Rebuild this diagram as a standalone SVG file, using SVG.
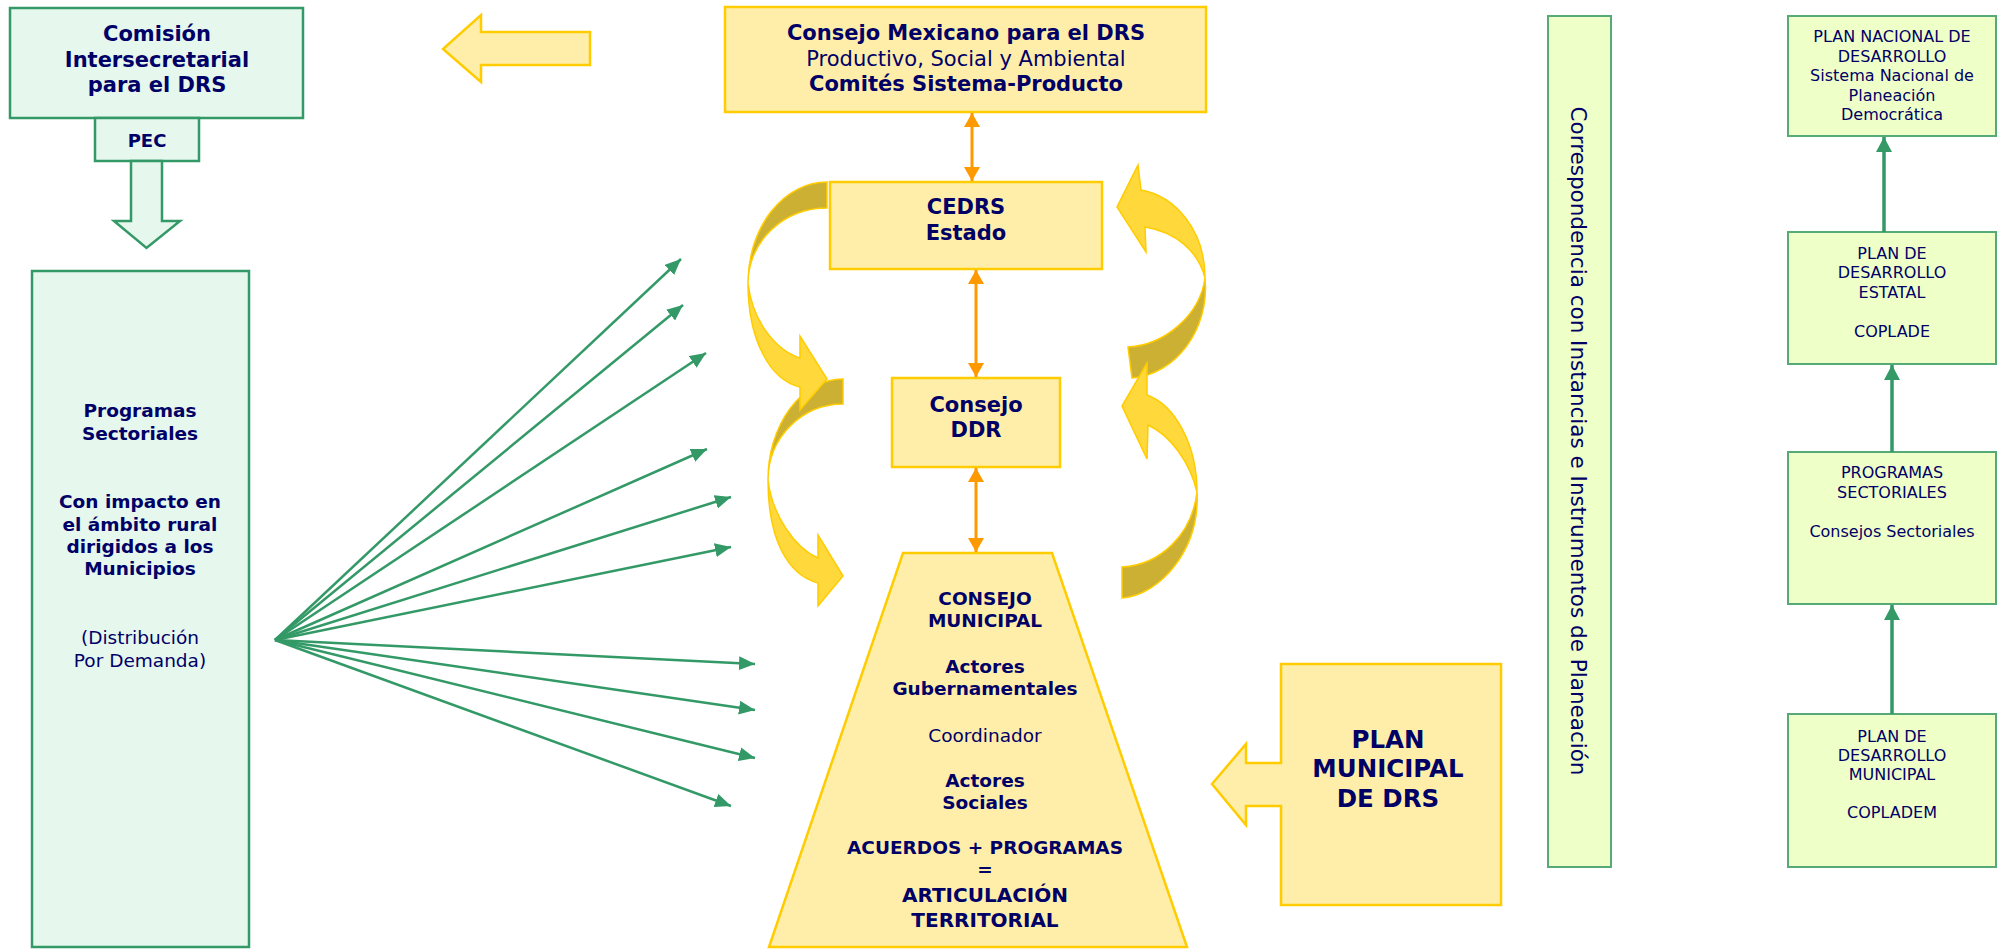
<svg xmlns="http://www.w3.org/2000/svg" width="2004" height="949" viewBox="0 0 2004 949">
<defs>
<style>
text{font-family:"DejaVu Sans","Verdana",sans-serif;fill:#000066;text-anchor:middle}
.b{font-weight:bold}
.mint{fill:#E6F7EE;stroke:#339966;stroke-width:2.5}
.lime{fill:#EFFFC8;stroke:#55AA77;stroke-width:2}
.yel{fill:#FFEEAA;stroke:#FFCC00;stroke-width:2.5}
.bright{fill:#FFD93B;stroke:#FFCC00;stroke-width:1.5}
.dark{fill:#CCB033;stroke:#FFCC00;stroke-width:1.5}
.gfan{stroke:#339966;stroke-width:2.5;fill:none;marker-end:url(#gh)}
.gcol{stroke:#339966;stroke-width:3.5;fill:none;marker-end:url(#gh2)}
.or{stroke:#FF9900;stroke-width:3;fill:none;marker-start:url(#oh);marker-end:url(#oh)}
</style>
<marker id="gh" markerUnits="userSpaceOnUse" markerWidth="18" markerHeight="14" refX="16" refY="7" orient="auto"><path d="M0,0 L16,7 L0,14 Z" fill="#339966"/></marker>
<marker id="gh2" markerUnits="userSpaceOnUse" markerWidth="16" markerHeight="16" refX="15" refY="8" orient="auto"><path d="M0,0 L15,8 L0,16 Z" fill="#339966"/></marker>
<marker id="oh" markerUnits="userSpaceOnUse" markerWidth="15" markerHeight="16" refX="14" refY="8" orient="auto-start-reverse"><path d="M0,0 L14,8 L0,16 Z" fill="#FF9900"/></marker>
</defs>
<rect width="2004" height="949" fill="#FFFFFF"/>

<g id="comision">
<rect class="mint" x="10" y="8" width="293" height="110"/>
<text class="b" font-size="21" x="157" y="41">Comisión</text>
<text class="b" font-size="21" x="157" y="67">Intersecretarial</text>
<text class="b" font-size="21" x="157" y="92">para el DRS</text>
</g>
<g id="pec">
<rect class="mint" x="95" y="118" width="104" height="43"/>
<text class="b" font-size="18" x="147" y="147">PEC</text>
</g>
<g id="pec-arrow">
<path class="mint" d="M131,161 L162,161 L162,221 L180,221 L146.5,248 L114,221 L131,221 Z"/>
</g>
<g id="programas">
<rect class="mint" x="32" y="271" width="217" height="676"/>
<text class="b" font-size="18.5" x="140" y="417">Programas</text>
<text class="b" font-size="18.5" x="140" y="440">Sectoriales</text>
<text class="b" font-size="18.5" x="140" y="508">Con impacto en</text>
<text class="b" font-size="18.5" x="140" y="531">el ámbito rural</text>
<text class="b" font-size="18.5" x="140" y="553">dirigidos a los</text>
<text class="b" font-size="18.5" x="140" y="575">Municipios</text>
<text font-size="18.5" x="140" y="644">(Distribución</text>
<text font-size="18.5" x="140" y="667">Por Demanda)</text>
</g>

<g id="top-arrow">
<path class="yel" d="M590,32 L481,32 L481,15 L443,49 L481,82 L481,65 L590,65 Z" stroke-width="2"/>
</g>

<g id="consejo-mexicano">
<rect class="yel" x="725" y="7" width="481" height="105"/>
<text class="b" font-size="21" x="966" y="40">Consejo Mexicano para el DRS</text>
<text font-size="21" x="966" y="66">Productivo, Social y Ambiental</text>
<text class="b" font-size="21" x="966" y="91">Comités Sistema-Producto</text>
</g>

<g id="curved-arrows">
<path class="dark" d="M843,379 A75,101 0 0 0 768,480 A75,76 0 0 1 843,404 Z"/>
<path class="bright" d="M768,480 C772,515 795,548 818,558 L818,535 L843,576 L818,606 L818,583 C788,575 768,540 768,480 Z"/>
<path class="dark" d="M827,182 A79,101 0 0 0 748,283 A79,75 0 0 1 827,208 Z"/>
<path class="bright" d="M748,283 C752,320 775,350 800,358 L800,336 L827,379 L800,410 L800,387 C770,380 748,340 748,283 Z"/>
<path class="dark" d="M1205,278 C1210,330 1175,375 1132,378 L1128,347 C1165,345 1200,315 1205,278 Z"/>
<path class="bright" d="M1138,165 L1141,190 C1175,196 1205,230 1205,278 C1198,250 1175,232 1145,227 L1146,252 L1117,207 Z"/>
<path class="dark" d="M1197,492 C1200,550 1160,595 1122,598 L1122,567 C1160,565 1192,535 1197,492 Z"/>
<path class="bright" d="M1147,363 L1147,395 C1175,405 1197,445 1197,492 C1190,462 1170,435 1148,425 L1147,459 L1122,406 Z"/>
</g>

<g id="cedrs">
<rect class="yel" x="830" y="182" width="272" height="87"/>
<text class="b" font-size="21" x="966" y="214">CEDRS</text>
<text class="b" font-size="21" x="966" y="240">Estado</text>
</g>
<g id="consejo-ddr">
<rect class="yel" x="892" y="378" width="168" height="89"/>
<text class="b" font-size="21" x="976" y="412">Consejo</text>
<text class="b" font-size="21" x="976" y="437">DDR</text>
</g>
<g id="consejo-municipal">
<path class="yel" d="M903,553 L1052,553 L1187,947 L769,947 Z"/>
<text class="b" font-size="18.5" x="985" y="605">CONSEJO</text>
<text class="b" font-size="18.5" x="985" y="627">MUNICIPAL</text>
<text class="b" font-size="18.5" x="985" y="673">Actores</text>
<text class="b" font-size="18.5" x="985" y="695">Gubernamentales</text>
<text font-size="18.5" x="985" y="742">Coordinador</text>
<text class="b" font-size="18.5" x="985" y="787">Actores</text>
<text class="b" font-size="18.5" x="985" y="809">Sociales</text>
<text class="b" font-size="18.5" x="985" y="854">ACUERDOS + PROGRAMAS</text>
<text class="b" font-size="18.5" x="985" y="876">=</text>
<text class="b" font-size="20" x="985" y="902">ARTICULACIÓN</text>
<text class="b" font-size="20" x="985" y="927">TERRITORIAL</text>
</g>
<g id="plan-municipal">
<path class="yel" d="M1281,664 L1501,664 L1501,905 L1281,905 L1281,806 L1246,806 L1246,825 L1212,784 L1246,744 L1246,763 L1281,763 Z"/>
<text class="b" font-size="24.5" x="1388" y="748">PLAN</text>
<text class="b" font-size="24.5" x="1388" y="777">MUNICIPAL</text>
<text class="b" font-size="24.5" x="1388" y="807">DE DRS</text>
</g>

<g id="correspondencia">
<rect class="lime" x="1548" y="16" width="63" height="851"/>
<text font-size="21.5" transform="translate(1571,441) rotate(90)">Correspondencia con Instancias e Instrumentos de Planeación</text>
</g>
<g id="plan-nacional">
<rect class="lime" x="1788" y="16" width="208" height="120"/>
<text font-size="16" x="1892" y="42">PLAN NACIONAL DE</text>
<text font-size="16" x="1892" y="62">DESARROLLO</text>
<text font-size="16" x="1892" y="81">Sistema Nacional de</text>
<text font-size="16" x="1892" y="101">Planeación</text>
<text font-size="16" x="1892" y="120">Democrática</text>
</g>
<g id="plan-estatal">
<rect class="lime" x="1788" y="232" width="208" height="132"/>
<text font-size="16" x="1892" y="259">PLAN DE</text>
<text font-size="16" x="1892" y="278">DESARROLLO</text>
<text font-size="16" x="1892" y="298">ESTATAL</text>
<text font-size="16" x="1892" y="337">COPLADE</text>
</g>
<g id="programas-sectoriales">
<rect class="lime" x="1788" y="452" width="208" height="152"/>
<text font-size="16" x="1892" y="478">PROGRAMAS</text>
<text font-size="16" x="1892" y="498">SECTORIALES</text>
<text font-size="16" x="1892" y="537">Consejos Sectoriales</text>
</g>
<g id="plan-municipal-desarrollo">
<rect class="lime" x="1788" y="714" width="208" height="153"/>
<text font-size="16" x="1892" y="742">PLAN DE</text>
<text font-size="16" x="1892" y="761">DESARROLLO</text>
<text font-size="16" x="1892" y="780">MUNICIPAL</text>
<text font-size="16" x="1892" y="818">COPLADEM</text>
</g>

<g id="connectors">
<line class="or" x1="972" y1="113" x2="972" y2="181"/>
<line class="or" x1="976" y1="270" x2="976" y2="377"/>
<line class="or" x1="976" y1="468" x2="976" y2="552"/>
<line class="gcol" x1="1884" y1="232" x2="1884" y2="137"/>
<line class="gcol" x1="1892" y1="452" x2="1892" y2="365"/>
<line class="gcol" x1="1892" y1="714" x2="1892" y2="605"/>
<line class="gfan" x1="275" y1="640" x2="681" y2="259"/>
<line class="gfan" x1="275" y1="640" x2="683" y2="305"/>
<line class="gfan" x1="275" y1="640" x2="706" y2="353"/>
<line class="gfan" x1="275" y1="640" x2="707" y2="449"/>
<line class="gfan" x1="275" y1="640" x2="731" y2="497"/>
<line class="gfan" x1="275" y1="640" x2="731" y2="547"/>
<line class="gfan" x1="275" y1="640" x2="755" y2="664"/>
<line class="gfan" x1="275" y1="640" x2="755" y2="710"/>
<line class="gfan" x1="275" y1="640" x2="755" y2="758"/>
<line class="gfan" x1="275" y1="640" x2="731" y2="806"/>
</g>
</svg>
